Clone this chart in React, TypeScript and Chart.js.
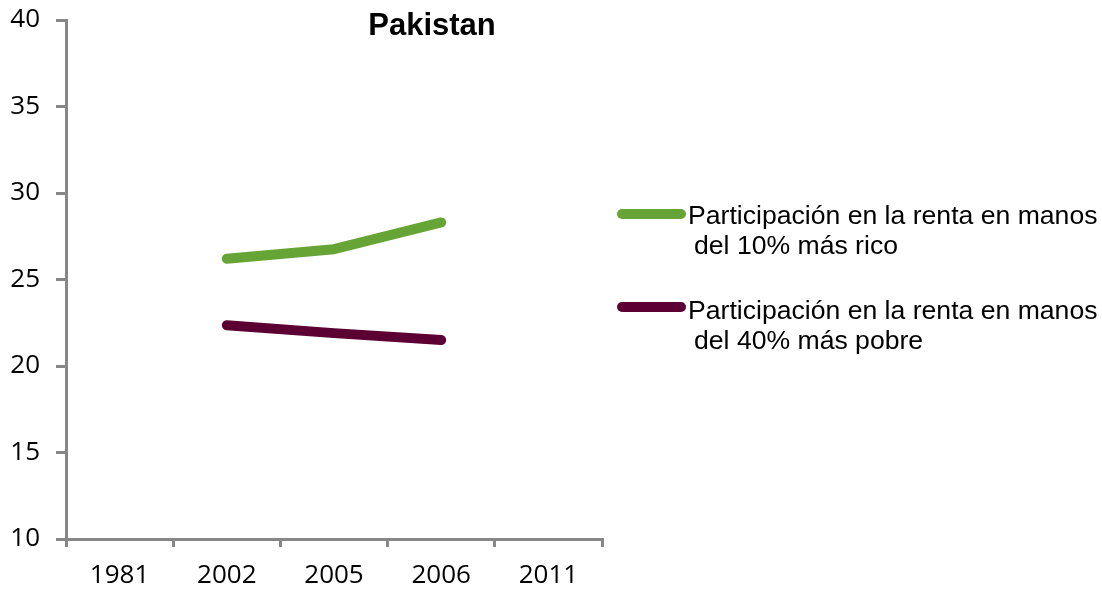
import React, { useEffect, useRef } from "react";
import { Chart, registerables } from "chart.js";

Chart.register(...registerables);

const categories = ["1981", "2002", "2005", "2006", "2011"];
const richest10 = [null, 26.2, 26.75, 28.3, null];
const poorest40 = [null, 22.35, 21.9, 21.5, null];
const yTicks = [10, 15, 20, 25, 30, 35, 40];
const title = "Pakistan";
const legendItems = [
  { line1: "Participación en la renta en manos", line2: "del 10% más rico", color: "#66A535" },
  { line1: "Participación en la renta en manos", line2: "del 40% más pobre", color: "#5C0033" },
];

export default function App() {
  const ref = useRef<HTMLCanvasElement | null>(null);
  useEffect(() => {
    if (!ref.current) return;
    const chart = new Chart(ref.current, {
      type: "line",
      data: {
        labels: categories,
        datasets: [
          {
            label: legendItems[0].line1,
            data: richest10,
            borderColor: legendItems[0].color,
            backgroundColor: legendItems[0].color,
            borderWidth: 10,
            borderCapStyle: "round",
            borderJoinStyle: "round",
            pointRadius: 0,
            spanGaps: false,
          },
          {
            label: legendItems[1].line1,
            data: poorest40,
            borderColor: legendItems[1].color,
            backgroundColor: legendItems[1].color,
            borderWidth: 10,
            borderCapStyle: "round",
            borderJoinStyle: "round",
            pointRadius: 0,
            spanGaps: false,
          },
        ],
      },
      options: {
        animation: false,
        responsive: false,
        maintainAspectRatio: false,
        layout: { padding: { left: 0, top: 20, right: 500, bottom: 0 } },
        plugins: { legend: { display: false }, title: { display: false }, tooltip: { enabled: false } },
        scales: {
          x: {
            type: "category",
            offset: true,
            afterFit: (s: any) => { s.height = 50; s.paddingLeft = 0; s.paddingRight = 0; },
            grid: { display: true, offset: true, drawOnChartArea: false, drawTicks: true, tickLength: 8, color: "#878787", lineWidth: 3 },
            border: { display: true, color: "#878787", width: 3 },
            ticks: { color: "#000", font: { family: "Open Sans", size: 26 }, padding: 13, maxRotation: 0 },
          },
          y: {
            min: 10,
            max: 40,
            afterFit: (s: any) => { s.width = 66; s.paddingTop = 0; s.paddingBottom = 0; },
            afterBuildTicks: (s: any) => { s.ticks = yTicks.map((v) => ({ value: v })); },
            grid: { display: true, drawOnChartArea: false, drawTicks: true, tickLength: 10, color: "#878787", lineWidth: 3 },
            border: { display: true, color: "#878787", width: 3 },
            ticks: { color: "#000", font: { family: "Open Sans", size: 26 }, padding: 16 },
          },
        },
      },
    });
    return () => chart.destroy();
  }, []);

  return (
    <div style={{ position: "fixed", left: 0, top: 0, width: 1102, height: 589, background: "#fff" }}>
      <canvas ref={ref} width={1102} height={589} style={{ position: "absolute", left: 0, top: 0, width: 1102, height: 589 }} />
      <div style={{ position: "absolute", left: 300, width: 264, top: 8, textAlign: "center", fontFamily: "'Liberation Sans', Arial, sans-serif", fontWeight: "bold", fontSize: 31, lineHeight: "34px", color: "#000" }}>{title}</div>
      {legendItems.map((it, i) => (
        <div key={i}>
          <div style={{ position: "absolute", left: 617, top: 209 + i * 93, width: 69, height: 10, borderRadius: 5, background: it.color }} />
          <div style={{ position: "absolute", left: 688, top: 200 + i * 95, fontFamily: "'Liberation Sans', Arial, sans-serif", fontSize: 26.6, lineHeight: "30px", color: "#000", whiteSpace: "nowrap" }}>
            <div>{it.line1}</div>
            <div style={{ paddingLeft: 6 }}>{it.line2}</div>
          </div>
        </div>
      ))}
    </div>
  );
}
